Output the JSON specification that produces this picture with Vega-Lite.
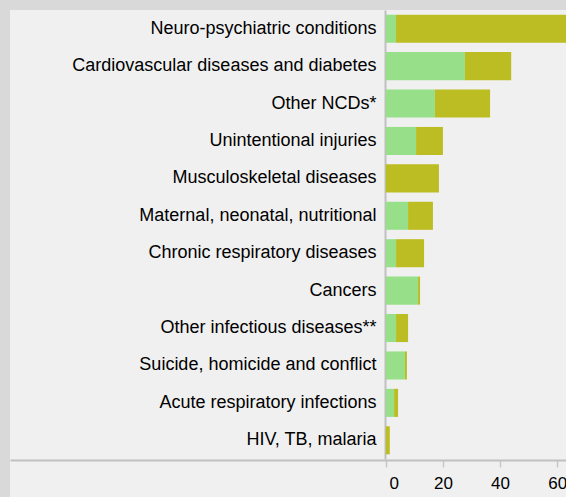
{
  "$schema": "https://vega.github.io/schema/vega-lite/v6.json",
  "width": 556,
  "height": 487,
  "autosize": {"type": "none"},
  "padding": {"left": 10, "top": 10, "right": 0, "bottom": 0},
  "background": "#d9d9d9",
  "view": {"fill": "#f0f0f0", "stroke": null},
  "data": {
    "values": [
      {"cause": "Neuro-psychiatric conditions", "type": "YLL", "value": 3.6},
      {"cause": "Neuro-psychiatric conditions", "type": "YLD", "value": 62.4},
      {"cause": "Cardiovascular diseases and diabetes", "type": "YLL", "value": 27.7},
      {"cause": "Cardiovascular diseases and diabetes", "type": "YLD", "value": 16.2},
      {"cause": "Other NCDs*", "type": "YLL", "value": 17.2},
      {"cause": "Other NCDs*", "type": "YLD", "value": 19.3},
      {"cause": "Unintentional injuries", "type": "YLL", "value": 10.6},
      {"cause": "Unintentional injuries", "type": "YLD", "value": 9.4},
      {"cause": "Musculoskeletal diseases", "type": "YLL", "value": 0},
      {"cause": "Musculoskeletal diseases", "type": "YLD", "value": 18.6},
      {"cause": "Maternal, neonatal, nutritional", "type": "YLL", "value": 7.8},
      {"cause": "Maternal, neonatal, nutritional", "type": "YLD", "value": 8.7},
      {"cause": "Chronic respiratory diseases", "type": "YLL", "value": 3.6},
      {"cause": "Chronic respiratory diseases", "type": "YLD", "value": 9.8},
      {"cause": "Cancers", "type": "YLL", "value": 11.3},
      {"cause": "Cancers", "type": "YLD", "value": 0.7},
      {"cause": "Other infectious diseases**", "type": "YLL", "value": 3.6},
      {"cause": "Other infectious diseases**", "type": "YLD", "value": 4.2},
      {"cause": "Suicide, homicide and conflict", "type": "YLL", "value": 6.7},
      {"cause": "Suicide, homicide and conflict", "type": "YLD", "value": 0.7},
      {"cause": "Acute respiratory infections", "type": "YLL", "value": 2.9},
      {"cause": "Acute respiratory infections", "type": "YLD", "value": 1.4},
      {"cause": "HIV, TB, malaria", "type": "YLL", "value": 0},
      {"cause": "HIV, TB, malaria", "type": "YLD", "value": 1.4}
    ]
  },
  "mark": {"type": "bar", "clip": true},
  "encoding": {
    "y": {
      "field": "cause",
      "type": "nominal",
      "sort": null,
      "scale": {"range": [0, 449], "paddingInner": 0.25, "paddingOuter": 0.125},
      "axis": {
        "title": null,
        "offset": -375,
        "ticks": false,
        "domainColor": "#c0c0c0",
        "domainWidth": 2,
        "labelFont": "Liberation Sans",
        "labelFontSize": 18,
        "labelColor": "#000000",
        "labelPadding": 9,
        "labelLimit": 400
      }
    },
    "x": {
      "field": "value",
      "type": "quantitative",
      "stack": "zero",
      "scale": {"domain": [-131.5, 63.07], "nice": false, "zero": false},
      "axis": {
        "title": null,
        "orient": "bottom",
        "offset": -37,
        "values": [0, 20, 40, 60],
        "grid": false,
        "domainColor": "#c0c0c0",
        "domainWidth": 2,
        "tickColor": "#c8c8c8",
        "tickWidth": 1.5,
        "tickSize": 7,
        "labelFont": "Liberation Sans",
        "labelFontSize": 17,
        "labelColor": "#000000",
        "labelPadding": 8,
        "labelFlush": false,
        "labelOffset": {"condition": {"test": "datum.value === 0", "value": 8}, "value": 0}
      }
    },
    "color": {
      "field": "type",
      "type": "nominal",
      "scale": {"domain": ["YLL", "YLD"], "range": ["#98df8a", "#bcbd22"]},
      "legend": null
    },
    "order": {"field": "type", "sort": "descending"}
  }
}
